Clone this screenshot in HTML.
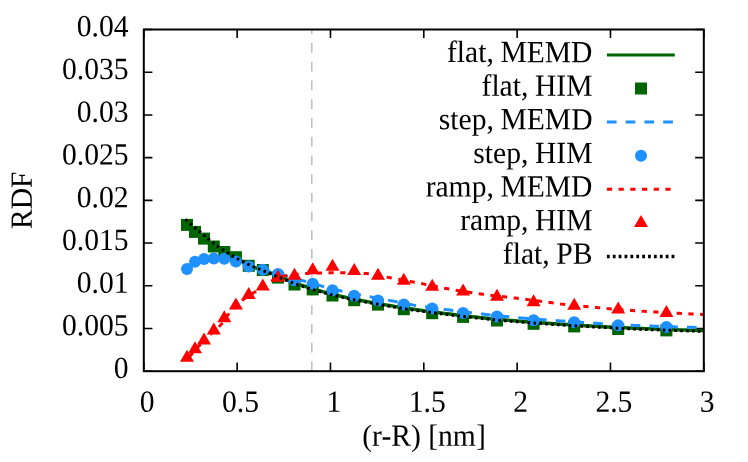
<!DOCTYPE html>
<html><head><meta charset="utf-8"><title>RDF</title>
<style>
html,body{margin:0;padding:0;background:#fff;}
body{width:748px;height:462px;overflow:hidden;}
svg{display:block;will-change:transform;}
text{font-family:"Liberation Serif",serif;font-size:29.6px;fill:#000;}
</style></head><body>
<svg width="748" height="462" viewBox="0 0 748 462">
<rect width="748" height="462" fill="#fff"/>
<path d="M311.80,371.2 L311.80,29.5" stroke="#bebebe" stroke-width="1.5" stroke-dasharray="9.7 9.035" fill="none"/>
<path d="M143.80,371.2 v-8.6 M143.80,29.5 v8.6 M237.13,371.2 v-8.6 M237.13,29.5 v8.6 M330.47,371.2 v-8.6 M330.47,29.5 v8.6 M423.80,371.2 v-8.6 M423.80,29.5 v8.6 M517.13,371.2 v-8.6 M517.13,29.5 v8.6 M610.47,371.2 v-8.6 M610.47,29.5 v8.6 M703.80,371.2 v-8.6 M703.80,29.5 v8.6 M143.8,371.20 h8.6 M703.8,371.20 h-8.6 M143.8,328.49 h8.6 M703.8,328.49 h-8.6 M143.8,285.77 h8.6 M703.8,285.77 h-8.6 M143.8,243.06 h8.6 M703.8,243.06 h-8.6 M143.8,200.35 h8.6 M703.8,200.35 h-8.6 M143.8,157.64 h8.6 M703.8,157.64 h-8.6 M143.8,114.93 h8.6 M703.8,114.93 h-8.6 M143.8,72.21 h8.6 M703.8,72.21 h-8.6 M143.8,29.50 h8.6 M703.8,29.50 h-8.6" stroke="#000" stroke-width="1.6" fill="none"/>
<clipPath id="c"><rect x="143.8" y="29.5" width="560.0" height="341.7"/></clipPath>
<g clip-path="url(#c)">
<path d="M187.00,224.90 L188.73,226.50 L190.46,228.05 L192.19,229.56 L193.91,231.01 L195.64,232.41 L197.37,233.73 L199.10,235.00 L200.83,236.24 L202.56,237.51 L204.28,238.82 L206.01,240.24 L207.74,241.72 L209.47,243.20 L211.20,244.62 L212.93,245.92 L214.65,247.03 L216.38,248.04 L218.11,248.97 L219.84,249.85 L221.57,250.69 L223.30,251.52 L225.03,252.34 L226.75,253.12 L228.48,253.85 L230.21,254.57 L231.94,255.31 L233.67,256.08 L235.40,256.93 L237.12,257.91 L238.85,259.08 L240.58,260.37 L242.31,261.70 L244.04,263.00 L245.77,264.21 L247.49,265.23 L249.22,266.01 L250.95,266.65 L252.68,267.20 L254.41,267.69 L256.14,268.14 L257.87,268.58 L259.59,269.04 L261.32,269.53 L263.05,270.08 L264.78,270.69 L266.51,271.33 L268.24,272.00 L269.96,272.68 L271.69,273.37 L273.42,274.09 L275.15,274.83 L276.88,275.56 L278.61,276.30 L280.34,277.01 L282.06,277.73 L283.79,278.46 L285.52,279.18 L287.25,279.90 L288.98,280.61 L290.71,281.30 L292.43,281.98 L294.16,282.63 L295.89,283.25 L297.62,283.87 L299.35,284.47 L301.08,285.05 L302.80,285.63 L304.53,286.20 L306.26,286.75 L307.99,287.30 L309.72,287.84 L311.45,288.37 L313.18,288.89 L314.90,289.41 L316.63,289.92 L318.36,290.42 L320.09,290.92 L321.82,291.41 L323.55,291.89 L325.27,292.37 L327.00,292.83 L328.73,293.29 L330.46,293.73 L332.19,294.17 L333.92,294.60 L335.64,295.02 L337.37,295.44 L339.10,295.85 L340.83,296.25 L342.56,296.65 L344.29,297.03 L346.02,297.42 L347.74,297.79 L349.47,298.17 L351.20,298.53 L352.93,298.89 L354.66,299.24 L356.39,299.59 L358.11,299.93 L359.84,300.26 L361.57,300.59 L363.30,300.92 L365.03,301.24 L366.76,301.55 L368.48,301.87 L370.21,302.18 L371.94,302.48 L373.67,302.79 L375.40,303.09 L377.13,303.40 L378.86,303.70 L380.58,304.00 L382.31,304.30 L384.04,304.60 L385.77,304.90 L387.50,305.20 L389.23,305.49 L390.95,305.78 L392.68,306.07 L394.41,306.36 L396.14,306.64 L397.87,306.92 L399.60,307.20 L401.33,307.47 L403.05,307.74 L404.78,308.00 L406.51,308.26 L408.24,308.52 L409.97,308.77 L411.70,309.03 L413.42,309.28 L415.15,309.52 L416.88,309.77 L418.61,310.01 L420.34,310.25 L422.07,310.49 L423.79,310.73 L425.52,310.96 L427.25,311.19 L428.98,311.42 L430.71,311.65 L432.44,311.88 L434.17,312.11 L435.89,312.33 L437.62,312.55 L439.35,312.78 L441.08,313.00 L442.81,313.21 L444.54,313.43 L446.26,313.65 L447.99,313.86 L449.72,314.07 L451.45,314.28 L453.18,314.49 L454.91,314.70 L456.63,314.90 L458.36,315.10 L460.09,315.30 L461.82,315.50 L463.55,315.70 L465.28,315.90 L467.01,316.09 L468.73,316.29 L470.46,316.48 L472.19,316.68 L473.92,316.87 L475.65,317.06 L477.38,317.25 L479.10,317.44 L480.83,317.62 L482.56,317.81 L484.29,317.99 L486.02,318.17 L487.75,318.35 L489.47,318.52 L491.20,318.69 L492.93,318.86 L494.66,319.03 L496.39,319.19 L498.12,319.35 L499.85,319.51 L501.57,319.67 L503.30,319.82 L505.03,319.97 L506.76,320.12 L508.49,320.27 L510.22,320.41 L511.94,320.56 L513.67,320.70 L515.40,320.84 L517.13,320.98 L518.86,321.12 L520.59,321.25 L522.32,321.39 L524.04,321.52 L525.77,321.66 L527.50,321.79 L529.23,321.92 L530.96,322.05 L532.69,322.18 L534.41,322.31 L536.14,322.44 L537.87,322.57 L539.60,322.70 L541.33,322.82 L543.06,322.95 L544.78,323.07 L546.51,323.20 L548.24,323.32 L549.97,323.45 L551.70,323.57 L553.43,323.69 L555.16,323.81 L556.88,323.93 L558.61,324.04 L560.34,324.16 L562.07,324.28 L563.80,324.39 L565.53,324.50 L567.25,324.61 L568.98,324.73 L570.71,324.83 L572.44,324.94 L574.17,325.05 L575.90,325.15 L577.62,325.26 L579.35,325.36 L581.08,325.46 L582.81,325.57 L584.54,325.67 L586.27,325.77 L588.00,325.87 L589.72,325.96 L591.45,326.06 L593.18,326.16 L594.91,326.25 L596.64,326.35 L598.37,326.44 L600.09,326.54 L601.82,326.63 L603.55,326.72 L605.28,326.81 L607.01,326.90 L608.74,326.99 L610.46,327.07 L612.19,327.16 L613.92,327.24 L615.65,327.33 L617.38,327.41 L619.11,327.49 L620.84,327.57 L622.56,327.65 L624.29,327.73 L626.02,327.81 L627.75,327.89 L629.48,327.97 L631.21,328.05 L632.93,328.13 L634.66,328.20 L636.39,328.28 L638.12,328.35 L639.85,328.43 L641.58,328.50 L643.31,328.57 L645.03,328.64 L646.76,328.71 L648.49,328.78 L650.22,328.85 L651.95,328.92 L653.68,328.99 L655.40,329.05 L657.13,329.12 L658.86,329.18 L660.59,329.25 L662.32,329.31 L664.05,329.37 L665.77,329.43 L667.50,329.49 L669.23,329.55 L670.96,329.60 L672.69,329.66 L674.42,329.72 L676.15,329.77 L677.87,329.83 L679.60,329.88 L681.33,329.93 L683.06,329.99 L684.79,330.04 L686.52,330.09 L688.24,330.14 L689.97,330.19 L691.70,330.24 L693.43,330.28 L695.16,330.33 L696.89,330.38 L698.61,330.42 L700.34,330.46 L702.07,330.51 L703.80,330.55" stroke="#006400" stroke-width="3.5" fill="none"/>
<rect x="181.00" y="218.90" width="12" height="12" fill="#006400"/>
<rect x="189.00" y="225.90" width="12" height="12" fill="#006400"/>
<rect x="198.00" y="232.60" width="12" height="12" fill="#006400"/>
<rect x="207.80" y="240.50" width="12" height="12" fill="#006400"/>
<rect x="218.30" y="246.00" width="12" height="12" fill="#006400"/>
<rect x="229.90" y="251.20" width="12" height="12" fill="#006400"/>
<rect x="242.70" y="259.80" width="12" height="12" fill="#006400"/>
<rect x="256.80" y="264.00" width="12" height="12" fill="#006400"/>
<rect x="272.00" y="271.60" width="12" height="12" fill="#006400"/>
<rect x="288.50" y="278.50" width="12" height="12" fill="#006400"/>
<rect x="306.70" y="283.40" width="12" height="12" fill="#006400"/>
<rect x="326.50" y="289.50" width="12" height="12" fill="#006400"/>
<rect x="348.20" y="294.20" width="12" height="12" fill="#006400"/>
<rect x="372.00" y="298.60" width="12" height="12" fill="#006400"/>
<rect x="397.80" y="303.20" width="12" height="12" fill="#006400"/>
<rect x="426.20" y="307.20" width="12" height="12" fill="#006400"/>
<rect x="457.10" y="310.90" width="12" height="12" fill="#006400"/>
<rect x="491.00" y="314.50" width="12" height="12" fill="#006400"/>
<rect x="527.60" y="317.80" width="12" height="12" fill="#006400"/>
<rect x="568.20" y="320.40" width="12" height="12" fill="#006400"/>
<rect x="612.20" y="323.00" width="12" height="12" fill="#006400"/>
<rect x="660.40" y="324.40" width="12" height="12" fill="#006400"/>
<path d="M187.00,268.90 L188.73,266.90 L190.46,265.08 L192.19,263.51 L193.91,262.27 L195.64,261.42 L197.37,260.73 L199.10,260.14 L200.83,259.66 L202.56,259.30 L204.28,259.07 L206.01,258.90 L207.74,258.76 L209.47,258.64 L211.20,258.55 L212.93,258.51 L214.65,258.50 L216.38,258.52 L218.11,258.56 L219.84,258.61 L221.57,258.67 L223.30,258.75 L225.03,258.85 L226.75,259.08 L228.48,259.42 L230.21,259.86 L231.94,260.34 L233.67,260.86 L235.40,261.36 L237.12,261.85 L238.85,262.41 L240.58,263.00 L242.31,263.62 L244.04,264.24 L245.77,264.85 L247.49,265.43 L249.22,265.95 L250.95,266.45 L252.68,266.92 L254.41,267.37 L256.14,267.82 L257.87,268.26 L259.59,268.69 L261.32,269.12 L263.05,269.56 L264.78,270.00 L266.51,270.42 L268.24,270.84 L269.96,271.25 L271.69,271.67 L273.42,272.10 L275.15,272.54 L276.88,272.99 L278.61,273.47 L280.34,273.98 L282.06,274.52 L283.79,275.07 L285.52,275.64 L287.25,276.21 L288.98,276.78 L290.71,277.34 L292.43,277.88 L294.16,278.40 L295.89,278.89 L297.62,279.36 L299.35,279.82 L301.08,280.26 L302.80,280.69 L304.53,281.13 L306.26,281.56 L307.99,282.01 L309.72,282.47 L311.45,282.94 L313.18,283.44 L314.90,283.98 L316.63,284.55 L318.36,285.11 L320.09,285.63 L321.82,286.11 L323.55,286.59 L325.27,287.06 L327.00,287.52 L328.73,287.96 L330.46,288.40 L332.19,288.83 L333.92,289.25 L335.64,289.67 L337.37,290.07 L339.10,290.47 L340.83,290.86 L342.56,291.25 L344.29,291.63 L346.02,292.00 L347.74,292.36 L349.47,292.72 L351.20,293.08 L352.93,293.43 L354.66,293.78 L356.39,294.12 L358.11,294.46 L359.84,294.79 L361.57,295.13 L363.30,295.46 L365.03,295.80 L366.76,296.13 L368.48,296.46 L370.21,296.80 L371.94,297.13 L373.67,297.46 L375.40,297.79 L377.13,298.12 L378.86,298.44 L380.58,298.77 L382.31,299.09 L384.04,299.41 L385.77,299.73 L387.50,300.05 L389.23,300.37 L390.95,300.70 L392.68,301.04 L394.41,301.38 L396.14,301.73 L397.87,302.09 L399.60,302.45 L401.33,302.82 L403.05,303.18 L404.78,303.54 L406.51,303.89 L408.24,304.23 L409.97,304.55 L411.70,304.85 L413.42,305.13 L415.15,305.40 L416.88,305.66 L418.61,305.90 L420.34,306.14 L422.07,306.37 L423.79,306.60 L425.52,306.82 L427.25,307.05 L428.98,307.27 L430.71,307.50 L432.44,307.73 L434.17,307.97 L435.89,308.20 L437.62,308.44 L439.35,308.67 L441.08,308.91 L442.81,309.15 L444.54,309.38 L446.26,309.62 L447.99,309.85 L449.72,310.08 L451.45,310.31 L453.18,310.54 L454.91,310.77 L456.63,310.99 L458.36,311.21 L460.09,311.43 L461.82,311.64 L463.55,311.85 L465.28,312.06 L467.01,312.27 L468.73,312.48 L470.46,312.68 L472.19,312.88 L473.92,313.09 L475.65,313.28 L477.38,313.48 L479.10,313.68 L480.83,313.87 L482.56,314.06 L484.29,314.26 L486.02,314.44 L487.75,314.63 L489.47,314.82 L491.20,315.00 L492.93,315.18 L494.66,315.36 L496.39,315.54 L498.12,315.71 L499.85,315.89 L501.57,316.06 L503.30,316.24 L505.03,316.41 L506.76,316.58 L508.49,316.75 L510.22,316.92 L511.94,317.08 L513.67,317.25 L515.40,317.41 L517.13,317.57 L518.86,317.73 L520.59,317.89 L522.32,318.05 L524.04,318.20 L525.77,318.35 L527.50,318.50 L529.23,318.64 L530.96,318.79 L532.69,318.93 L534.41,319.06 L536.14,319.20 L537.87,319.33 L539.60,319.46 L541.33,319.59 L543.06,319.71 L544.78,319.84 L546.51,319.96 L548.24,320.08 L549.97,320.20 L551.70,320.32 L553.43,320.43 L555.16,320.55 L556.88,320.67 L558.61,320.78 L560.34,320.89 L562.07,321.01 L563.80,321.12 L565.53,321.23 L567.25,321.34 L568.98,321.46 L570.71,321.57 L572.44,321.68 L574.17,321.80 L575.90,321.91 L577.62,322.03 L579.35,322.15 L581.08,322.26 L582.81,322.38 L584.54,322.50 L586.27,322.62 L588.00,322.73 L589.72,322.85 L591.45,322.97 L593.18,323.09 L594.91,323.20 L596.64,323.32 L598.37,323.43 L600.09,323.54 L601.82,323.65 L603.55,323.76 L605.28,323.87 L607.01,323.98 L608.74,324.08 L610.46,324.18 L612.19,324.28 L613.92,324.37 L615.65,324.47 L617.38,324.56 L619.11,324.65 L620.84,324.73 L622.56,324.82 L624.29,324.90 L626.02,324.98 L627.75,325.06 L629.48,325.15 L631.21,325.23 L632.93,325.30 L634.66,325.38 L636.39,325.46 L638.12,325.53 L639.85,325.61 L641.58,325.68 L643.31,325.75 L645.03,325.82 L646.76,325.89 L648.49,325.96 L650.22,326.03 L651.95,326.09 L653.68,326.16 L655.40,326.22 L657.13,326.28 L658.86,326.35 L660.59,326.41 L662.32,326.47 L664.05,326.52 L665.77,326.58 L667.50,326.64 L669.23,326.69 L670.96,326.74 L672.69,326.80 L674.42,326.85 L676.15,326.90 L677.87,326.95 L679.60,327.00 L681.33,327.05 L683.06,327.10 L684.79,327.15 L686.52,327.19 L688.24,327.24 L689.97,327.28 L691.70,327.33 L693.43,327.37 L695.16,327.41 L696.89,327.45 L698.61,327.49 L700.34,327.53 L702.07,327.56 L703.80,327.60" stroke="#1e90ff" stroke-width="3" stroke-dasharray="9.7 9.07" stroke-dashoffset="15.5" fill="none"/>
<circle cx="187.00" cy="268.90" r="6" fill="#1e90ff"/>
<circle cx="195.00" cy="261.70" r="6" fill="#1e90ff"/>
<circle cx="204.00" cy="259.10" r="6" fill="#1e90ff"/>
<circle cx="213.80" cy="258.50" r="6" fill="#1e90ff"/>
<circle cx="224.30" cy="258.80" r="6" fill="#1e90ff"/>
<circle cx="235.90" cy="261.50" r="6" fill="#1e90ff"/>
<circle cx="248.70" cy="266.40" r="6" fill="#1e90ff"/>
<circle cx="262.80" cy="269.80" r="6" fill="#1e90ff"/>
<circle cx="278.00" cy="274.00" r="6" fill="#1e90ff"/>
<circle cx="294.50" cy="280.30" r="6" fill="#1e90ff"/>
<circle cx="312.70" cy="283.70" r="6" fill="#1e90ff"/>
<circle cx="332.50" cy="290.20" r="6" fill="#1e90ff"/>
<circle cx="354.20" cy="295.80" r="6" fill="#1e90ff"/>
<circle cx="378.00" cy="300.50" r="6" fill="#1e90ff"/>
<circle cx="403.80" cy="304.40" r="6" fill="#1e90ff"/>
<circle cx="432.20" cy="308.40" r="6" fill="#1e90ff"/>
<circle cx="463.10" cy="312.90" r="6" fill="#1e90ff"/>
<circle cx="497.00" cy="316.60" r="6" fill="#1e90ff"/>
<circle cx="533.60" cy="320.20" r="6" fill="#1e90ff"/>
<circle cx="574.20" cy="322.20" r="6" fill="#1e90ff"/>
<circle cx="618.20" cy="325.20" r="6" fill="#1e90ff"/>
<circle cx="666.40" cy="326.90" r="6" fill="#1e90ff"/>
<path d="M187.00,358.60 L187.46,358.19 L187.92,357.77 L188.38,357.35 L188.85,356.92 L189.31,356.48 L189.77,356.04 L190.23,355.59 L190.69,355.13 L191.15,354.66 L191.62,354.19 L192.08,353.71 L192.54,353.21 L193.00,352.70 L193.46,352.18 L193.92,351.65 L194.38,351.11 L194.85,350.57 L195.31,350.03 L195.77,349.48 L196.23,348.94 L196.69,348.40 L197.15,347.87 L197.62,347.35 L198.08,346.84 L198.54,346.35 L199.00,345.86 L199.46,345.37 L199.92,344.90 L200.38,344.43 L200.85,343.96 L201.31,343.49 L201.77,343.03 L202.23,342.57 L202.69,342.11 L203.15,341.65 L203.62,341.19 L204.08,340.72 L204.54,340.26 L205.00,339.80" stroke="#ff0000" stroke-width="3" stroke-dasharray="5.2 6.5" stroke-dashoffset="-3" fill="none"/>
<path d="M210.00,335.00 L211.65,333.32 L213.30,331.68 L214.95,330.13 L216.61,328.71 L218.26,327.29 L219.91,325.76 L221.56,323.98 L223.21,321.74 L224.86,319.21 L226.52,316.74 L228.17,314.62 L229.82,312.73 L231.47,310.96 L233.12,309.27 L234.77,307.62 L236.42,305.98 L238.08,304.30 L239.73,302.63 L241.38,301.05 L243.03,299.63 L244.68,298.40 L246.33,297.28 L247.98,296.24 L249.64,295.24 L251.29,294.26 L252.94,293.26 L254.59,292.21 L256.24,291.08 L257.89,289.91 L259.55,288.72 L261.20,287.54 L262.85,286.40 L264.50,285.28 L266.15,284.13 L267.80,283.02 L269.45,281.97 L271.11,281.04 L272.76,280.25 L274.41,279.50 L276.06,278.78 L277.71,278.10 L279.36,277.48 L281.01,276.93 L282.67,276.45 L284.32,276.06 L285.97,275.74 L287.62,275.46 L289.27,275.22 L290.92,275.00 L292.58,274.81 L294.23,274.63 L295.88,274.46 L297.53,274.29 L299.18,274.14 L300.83,273.98 L302.48,273.84 L304.14,273.70 L305.79,273.58 L307.44,273.46 L309.09,273.36 L310.74,273.28 L312.39,273.21 L314.04,273.15 L315.70,273.10 L317.35,273.05 L319.00,273.00 L320.65,272.95 L322.30,272.91 L323.95,272.87 L325.61,272.84 L327.26,272.82 L328.91,272.81 L330.56,272.80 L332.21,272.80 L333.86,272.80 L335.51,272.80 L337.17,272.80 L338.82,272.80 L340.47,272.80 L342.12,272.80 L343.77,272.80 L345.42,272.82 L347.07,272.84 L348.73,272.87 L350.38,272.90 L352.03,272.95 L353.68,273.00 L355.33,273.05 L356.98,273.11 L358.64,273.18 L360.29,273.25 L361.94,273.32 L363.59,273.40 L365.24,273.48 L366.89,273.58 L368.54,273.73 L370.20,273.93 L371.85,274.17 L373.50,274.44 L375.15,274.74 L376.80,275.06 L378.45,275.40 L380.11,275.75 L381.76,276.10 L383.41,276.45 L385.06,276.80 L386.71,277.13 L388.36,277.44 L390.01,277.73 L391.67,278.03 L393.32,278.33 L394.97,278.63 L396.62,278.93 L398.27,279.24 L399.92,279.54 L401.57,279.85 L403.23,280.15 L404.88,280.46 L406.53,280.77 L408.18,281.07 L409.83,281.38 L411.48,281.69 L413.14,281.99 L414.79,282.30 L416.44,282.60 L418.09,282.91 L419.74,283.22 L421.39,283.53 L423.04,283.85 L424.70,284.17 L426.35,284.50 L428.00,284.84 L429.65,285.18 L431.30,285.52 L432.95,285.86 L434.60,286.20 L436.26,286.55 L437.91,286.88 L439.56,287.22 L441.21,287.55 L442.86,287.86 L444.51,288.18 L446.17,288.48 L447.82,288.77 L449.47,289.06 L451.12,289.34 L452.77,289.63 L454.42,289.91 L456.07,290.19 L457.73,290.46 L459.38,290.73 L461.03,291.00 L462.68,291.26 L464.33,291.52 L465.98,291.78 L467.63,292.04 L469.29,292.29 L470.94,292.53 L472.59,292.78 L474.24,293.02 L475.89,293.26 L477.54,293.49 L479.20,293.72 L480.85,293.95 L482.50,294.17 L484.15,294.38 L485.80,294.60 L487.45,294.80 L489.10,295.01 L490.76,295.21 L492.41,295.40 L494.06,295.60 L495.71,295.79 L497.36,295.98 L499.01,296.17 L500.66,296.36 L502.32,296.55 L503.97,296.74 L505.62,296.93 L507.27,297.12 L508.92,297.31 L510.57,297.50 L512.23,297.70 L513.88,297.90 L515.53,298.10 L517.18,298.31 L518.83,298.52 L520.48,298.72 L522.13,298.93 L523.79,299.14 L525.44,299.35 L527.09,299.57 L528.74,299.78 L530.39,299.99 L532.04,300.20 L533.69,300.42 L535.35,300.63 L537.00,300.85 L538.65,301.06 L540.30,301.28 L541.95,301.49 L543.60,301.71 L545.26,301.93 L546.91,302.14 L548.56,302.36 L550.21,302.58 L551.86,302.79 L553.51,303.02 L555.16,303.25 L556.82,303.48 L558.47,303.70 L560.12,303.91 L561.77,304.12 L563.42,304.30 L565.07,304.49 L566.73,304.66 L568.38,304.83 L570.03,305.00 L571.68,305.16 L573.33,305.32 L574.98,305.47 L576.63,305.63 L578.29,305.78 L579.94,305.93 L581.59,306.09 L583.24,306.24 L584.89,306.39 L586.54,306.55 L588.19,306.71 L589.85,306.87 L591.50,307.03 L593.15,307.20 L594.80,307.36 L596.45,307.52 L598.10,307.68 L599.76,307.85 L601.41,308.01 L603.06,308.17 L604.71,308.32 L606.36,308.48 L608.01,308.63 L609.66,308.78 L611.32,308.93 L612.97,309.07 L614.62,309.21 L616.27,309.35 L617.92,309.48 L619.57,309.61 L621.22,309.73 L622.88,309.85 L624.53,309.97 L626.18,310.09 L627.83,310.21 L629.48,310.33 L631.13,310.44 L632.79,310.55 L634.44,310.66 L636.09,310.77 L637.74,310.88 L639.39,310.99 L641.04,311.09 L642.69,311.20 L644.35,311.30 L646.00,311.40 L647.65,311.51 L649.30,311.61 L650.95,311.71 L652.60,311.80 L654.25,311.90 L655.91,312.00 L657.56,312.09 L659.21,312.19 L660.86,312.28 L662.51,312.38 L664.16,312.47 L665.82,312.57 L667.47,312.66 L669.12,312.75 L670.77,312.84 L672.42,312.93 L674.07,313.02 L675.72,313.11 L677.38,313.20 L679.03,313.29 L680.68,313.38 L682.33,313.46 L683.98,313.55 L685.63,313.63 L687.28,313.71 L688.94,313.80 L690.59,313.88 L692.24,313.96 L693.89,314.04 L695.54,314.12 L697.19,314.20 L698.85,314.27 L700.50,314.35 L702.15,314.43 L703.80,314.50" stroke="#ff0000" stroke-width="3" stroke-dasharray="5.2 6.5" stroke-dashoffset="11.3" fill="none"/>
<path d="M187.00,349.70 L180.00,361.70 L194.00,361.70 Z" fill="#ff0000"/>
<path d="M195.00,341.30 L188.00,353.30 L202.00,353.30 Z" fill="#ff0000"/>
<path d="M204.00,332.50 L197.00,344.50 L211.00,344.50 Z" fill="#ff0000"/>
<path d="M213.80,322.40 L206.80,334.40 L220.80,334.40 Z" fill="#ff0000"/>
<path d="M224.30,310.20 L217.30,322.20 L231.30,322.20 Z" fill="#ff0000"/>
<path d="M235.90,297.50 L228.90,309.50 L242.90,309.50 Z" fill="#ff0000"/>
<path d="M248.70,287.10 L241.70,299.10 L255.70,299.10 Z" fill="#ff0000"/>
<path d="M262.80,278.40 L255.80,290.40 L269.80,290.40 Z" fill="#ff0000"/>
<path d="M278.00,269.70 L271.00,281.70 L285.00,281.70 Z" fill="#ff0000"/>
<path d="M294.50,267.70 L287.50,279.70 L301.50,279.70 Z" fill="#ff0000"/>
<path d="M312.70,262.30 L305.70,274.30 L319.70,274.30 Z" fill="#ff0000"/>
<path d="M332.50,258.70 L325.50,270.70 L339.50,270.70 Z" fill="#ff0000"/>
<path d="M354.20,263.10 L347.20,275.10 L361.20,275.10 Z" fill="#ff0000"/>
<path d="M378.00,267.80 L371.00,279.80 L385.00,279.80 Z" fill="#ff0000"/>
<path d="M403.80,272.80 L396.80,284.80 L410.80,284.80 Z" fill="#ff0000"/>
<path d="M432.20,278.80 L425.20,290.80 L439.20,290.80 Z" fill="#ff0000"/>
<path d="M463.10,283.50 L456.10,295.50 L470.10,295.50 Z" fill="#ff0000"/>
<path d="M497.00,288.80 L490.00,300.80 L504.00,300.80 Z" fill="#ff0000"/>
<path d="M533.60,294.30 L526.60,306.30 L540.60,306.30 Z" fill="#ff0000"/>
<path d="M574.20,297.80 L567.20,309.80 L581.20,309.80 Z" fill="#ff0000"/>
<path d="M618.20,301.50 L611.20,313.50 L625.20,313.50 Z" fill="#ff0000"/>
<path d="M666.40,305.10 L659.40,317.10 L673.40,317.10 Z" fill="#ff0000"/>
<path d="M185.50,219.40 L187.23,221.03 L188.97,222.62 L190.70,224.18 L192.43,225.71 L194.17,227.20 L195.90,228.64 L197.63,230.02 L199.37,231.35 L201.10,232.69 L202.83,234.06 L204.57,235.50 L206.30,237.06 L208.03,238.59 L209.77,240.08 L211.50,241.56 L213.24,243.00 L214.97,244.37 L216.70,245.66 L218.44,246.88 L220.17,248.05 L221.90,249.19 L223.64,250.32 L225.37,251.44 L227.10,252.57 L228.84,253.70 L230.57,254.81 L232.30,255.88 L234.04,256.91 L235.77,257.87 L237.50,258.80 L239.24,259.69 L240.97,260.57 L242.70,261.44 L244.44,262.32 L246.17,263.22 L247.90,264.12 L249.64,264.99 L251.37,265.84 L253.10,266.62 L254.84,267.35 L256.57,268.05 L258.30,268.72 L260.04,269.40 L261.77,270.09 L263.51,270.79 L265.24,271.49 L266.97,272.20 L268.71,272.91 L270.44,273.62 L272.17,274.35 L273.91,275.07 L275.64,275.80 L277.37,276.53 L279.11,277.25 L280.84,277.97 L282.57,278.70 L284.31,279.42 L286.04,280.15 L287.77,280.87 L289.51,281.57 L291.24,282.26 L292.97,282.93 L294.71,283.58 L296.44,284.20 L298.17,284.81 L299.91,285.41 L301.64,285.99 L303.37,286.57 L305.11,287.13 L306.84,287.69 L308.57,288.23 L310.31,288.77 L312.04,289.30 L313.77,289.82 L315.51,290.34 L317.24,290.85 L318.98,291.35 L320.71,291.85 L322.44,292.34 L324.18,292.82 L325.91,293.29 L327.64,293.75 L329.38,294.20 L331.11,294.65 L332.84,295.09 L334.58,295.51 L336.31,295.93 L338.04,296.35 L339.78,296.76 L341.51,297.16 L343.24,297.55 L344.98,297.94 L346.71,298.32 L348.44,298.70 L350.18,299.07 L351.91,299.43 L353.64,299.79 L355.38,300.14 L357.11,300.48 L358.84,300.82 L360.58,301.15 L362.31,301.48 L364.04,301.81 L365.78,302.13 L367.51,302.44 L369.25,302.75 L370.98,303.06 L372.71,303.37 L374.45,303.68 L376.18,303.98 L377.91,304.28 L379.65,304.59 L381.38,304.89 L383.11,305.19 L384.85,305.49 L386.58,305.79 L388.31,306.09 L390.05,306.38 L391.78,306.67 L393.51,306.96 L395.25,307.24 L396.98,307.53 L398.71,307.80 L400.45,308.08 L402.18,308.35 L403.91,308.62 L405.65,308.88 L407.38,309.14 L409.11,309.40 L410.85,309.65 L412.58,309.90 L414.31,310.15 L416.05,310.40 L417.78,310.65 L419.52,310.89 L421.25,311.13 L422.98,311.37 L424.72,311.60 L426.45,311.84 L428.18,312.07 L429.92,312.30 L431.65,312.53 L433.38,312.76 L435.12,312.98 L436.85,313.21 L438.58,313.43 L440.32,313.65 L442.05,313.87 L443.78,314.09 L445.52,314.30 L447.25,314.52 L448.98,314.73 L450.72,314.94 L452.45,315.15 L454.18,315.36 L455.92,315.57 L457.65,315.77 L459.38,315.97 L461.12,316.17 L462.85,316.37 L464.58,316.57 L466.32,316.77 L468.05,316.96 L469.78,317.16 L471.52,317.35 L473.25,317.55 L474.99,317.74 L476.72,317.93 L478.45,318.12 L480.19,318.31 L481.92,318.49 L483.65,318.67 L485.39,318.86 L487.12,319.03 L488.85,319.21 L490.59,319.38 L492.32,319.55 L494.05,319.72 L495.79,319.89 L497.52,320.05 L499.25,320.21 L500.99,320.36 L502.72,320.52 L504.45,320.67 L506.19,320.82 L507.92,320.97 L509.65,321.12 L511.39,321.26 L513.12,321.40 L514.85,321.54 L516.59,321.68 L518.32,321.82 L520.05,321.96 L521.79,322.10 L523.52,322.23 L525.26,322.37 L526.99,322.50 L528.72,322.63 L530.46,322.76 L532.19,322.89 L533.92,323.02 L535.66,323.15 L537.39,323.28 L539.12,323.41 L540.86,323.54 L542.59,323.67 L544.32,323.79 L546.06,323.92 L547.79,324.04 L549.52,324.16 L551.26,324.29 L552.99,324.41 L554.72,324.53 L556.46,324.65 L558.19,324.77 L559.92,324.88 L561.66,325.00 L563.39,325.11 L565.12,325.23 L566.86,325.34 L568.59,325.45 L570.32,325.56 L572.06,325.67 L573.79,325.78 L575.53,325.88 L577.26,325.99 L578.99,326.09 L580.73,326.19 L582.46,326.29 L584.19,326.40 L585.93,326.50 L587.66,326.60 L589.39,326.70 L591.13,326.79 L592.86,326.89 L594.59,326.99 L596.33,327.08 L598.06,327.18 L599.79,327.27 L601.53,327.36 L603.26,327.45 L604.99,327.54 L606.73,327.63 L608.46,327.72 L610.19,327.81 L611.93,327.90 L613.66,327.98 L615.39,328.07 L617.13,328.15 L618.86,328.23 L620.59,328.31 L622.33,328.39 L624.06,328.47 L625.79,328.55 L627.53,328.63 L629.26,328.71 L631.00,328.79 L632.73,328.87 L634.46,328.94 L636.20,329.02 L637.93,329.09 L639.66,329.17 L641.40,329.24 L643.13,329.31 L644.86,329.39 L646.60,329.46 L648.33,329.53 L650.06,329.60 L651.80,329.66 L653.53,329.73 L655.26,329.80 L657.00,329.86 L658.73,329.93 L660.46,329.99 L662.20,330.05 L663.93,330.11 L665.66,330.17 L667.40,330.23 L669.13,330.29 L670.86,330.35 L672.60,330.41 L674.33,330.46 L676.06,330.52 L677.80,330.57 L679.53,330.63 L681.27,330.68 L683.00,330.73 L684.73,330.79 L686.47,330.84 L688.20,330.89 L689.93,330.94 L691.67,330.99 L693.40,331.03 L695.13,331.08 L696.87,331.13 L698.60,331.17 L700.33,331.21 L702.07,331.26 L703.80,331.30" stroke="#000" stroke-width="3.0" stroke-dasharray="2.6 3.28" fill="none"/>
</g>
<text transform="translate(592.50,62.20) rotate(0.05) scale(1,1.04)" text-anchor="end" word-spacing="-0.8">flat, MEMD</text>
<text transform="translate(592.50,95.80) rotate(0.05) scale(1,1.04)" text-anchor="end" word-spacing="-0.8">flat, HIM</text>
<text transform="translate(592.50,129.40) rotate(0.05) scale(1,1.04)" text-anchor="end" word-spacing="-0.8">step, MEMD</text>
<text transform="translate(592.50,163.00) rotate(0.05) scale(1,1.04)" text-anchor="end" word-spacing="-0.8">step, HIM</text>
<text transform="translate(592.50,196.60) rotate(0.05) scale(1,1.04)" text-anchor="end" word-spacing="-0.8">ramp, MEMD</text>
<text transform="translate(592.50,230.20) rotate(0.05) scale(1,1.04)" text-anchor="end" word-spacing="-0.8">ramp, HIM</text>
<text transform="translate(592.50,263.80) rotate(0.05) scale(1,1.04)" text-anchor="end" word-spacing="-0.8">flat, PB</text>
<path d="M606.9,54.9 H674.8" stroke="#006400" stroke-width="3"/>
<rect x="635" y="82.50" width="12" height="12" fill="#006400"/>
<path d="M606.9,122.10 H674.8" stroke="#1e90ff" stroke-width="3" stroke-dasharray="9.7 9.07"/>
<circle cx="641" cy="155.70" r="6" fill="#1e90ff"/>
<path d="M606.9,189.30 H674.8" stroke="#ff0000" stroke-width="3" stroke-dasharray="5.2 6.5"/>
<path d="M641,214.90 L634,226.90 L648,226.90 Z" fill="#ff0000"/>
<path d="M606.9,256.50 H674.8" stroke="#000" stroke-width="3.3" stroke-dasharray="2.8 3.08"/>
<rect x="143.8" y="29.5" width="560.0" height="341.70" fill="none" stroke="#000" stroke-width="2"/>
<text transform="translate(147.20,411.80) rotate(0.05) scale(1,1.04)" text-anchor="middle">0</text>
<text transform="translate(240.53,411.80) rotate(0.05) scale(1,1.04)" text-anchor="middle">0.5</text>
<text transform="translate(333.87,411.80) rotate(0.05) scale(1,1.04)" text-anchor="middle">1</text>
<text transform="translate(427.20,411.80) rotate(0.05) scale(1,1.04)" text-anchor="middle">1.5</text>
<text transform="translate(520.53,411.80) rotate(0.05) scale(1,1.04)" text-anchor="middle">2</text>
<text transform="translate(613.87,411.80) rotate(0.05) scale(1,1.04)" text-anchor="middle">2.5</text>
<text transform="translate(707.20,411.80) rotate(0.05) scale(1,1.04)" text-anchor="middle">3</text>
<text transform="translate(128.60,378.10) rotate(0.05) scale(1,1.04)" text-anchor="end">0</text>
<text transform="translate(128.60,335.39) rotate(0.05) scale(1,1.04)" text-anchor="end">0.005</text>
<text transform="translate(128.60,292.67) rotate(0.05) scale(1,1.04)" text-anchor="end">0.01</text>
<text transform="translate(128.60,249.96) rotate(0.05) scale(1,1.04)" text-anchor="end">0.015</text>
<text transform="translate(128.60,207.25) rotate(0.05) scale(1,1.04)" text-anchor="end">0.02</text>
<text transform="translate(128.60,164.54) rotate(0.05) scale(1,1.04)" text-anchor="end">0.025</text>
<text transform="translate(128.60,121.83) rotate(0.05) scale(1,1.04)" text-anchor="end">0.03</text>
<text transform="translate(128.60,79.11) rotate(0.05) scale(1,1.04)" text-anchor="end">0.035</text>
<text transform="translate(128.60,36.40) rotate(0.05) scale(1,1.04)" text-anchor="end">0.04</text>
<text transform="translate(424.00,445.80) rotate(0.05) scale(1,1.04)" text-anchor="middle">(r-R) [nm]</text>
<text transform="translate(31.70,200.30) rotate(-90.05) scale(1,1.04)" text-anchor="middle">RDF</text>
</svg></body></html>
